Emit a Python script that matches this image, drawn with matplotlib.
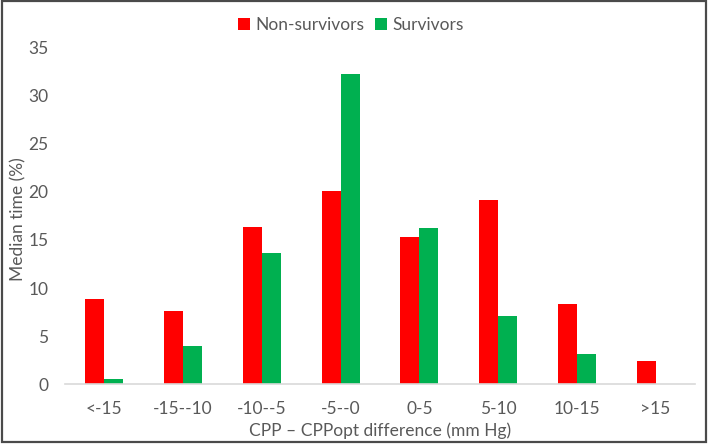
import matplotlib
matplotlib.use("Agg")
import matplotlib.pyplot as plt
from matplotlib.patches import Rectangle
import numpy as np

categories = ["<-15", "-15--10", "-10--5", "-5--0", "0-5", "5-10", "10-15", ">15"]
non_survivors = [8.9, 7.6, 16.3, 20.1, 15.3, 19.1, 8.3, 2.4]
survivors = [0.5, 4.0, 13.6, 32.2, 16.2, 7.1, 3.1, 0.0]
yticks = [0, 5, 10, 15, 20, 25, 30, 35]

plt.rcParams['font.family'] = ['Lato', 'DejaVu Sans']
TXT = "#595959"

W, H = 708, 444
fig = plt.figure(figsize=(W / 100, H / 100), dpi=100)
ax = fig.add_axes([65 / W, 1 - 384.3 / H, 630 / W, 337 / H])

x = np.arange(len(categories))
bw = 0.24
ax.bar(x - bw / 2, non_survivors, bw, color="#FF0000", label="Non-survivors")
ax.bar(x + bw / 2, survivors, bw, color="#00B050", label="Survivors")

ax.set_xlim(-0.5, len(categories) - 0.5)
ax.set_ylim(0, 35)
ax.set_yticks(yticks)
ax.set_yticklabels([str(t) for t in yticks], fontsize=12.5, color=TXT)
ax.set_xticks(x)
ax.set_xticklabels(categories, fontsize=12.5, color=TXT)
ax.tick_params(axis="both", length=0)
ax.tick_params(axis="y", pad=12)
ax.tick_params(axis="x", pad=12)
for s in ["top", "right", "left"]:
    ax.spines[s].set_visible(False)
ax.spines["bottom"].set_color("#D9D9D9")
ax.spines["bottom"].set_linewidth(1.2)

ax.set_ylabel("Median time (%)", fontsize=12.5, color=TXT)
ax.yaxis.set_label_coords(-0.062, 0.49)
ax.set_xlabel("CPP – CPPopt difference (mm Hg)", fontsize=12.5, color=TXT, labelpad=4)

fig.legend(loc="center", bbox_to_anchor=(351 / W, 1 - 25 / H), ncol=2, frameon=False,
           fontsize=12.5, handlelength=0.7, handleheight=0.7, handletextpad=0.3,
           columnspacing=0.6, labelcolor=TXT)

fig.patches.append(Rectangle((1.5 / W, 2.5 / H), (705.5 - 1.5) / W, (442.5 - 2.5) / H,
                             transform=fig.transFigure, fill=False,
                             edgecolor="#4A4A4A", linewidth=1.6))

fig.savefig("out.png", dpi=100)
